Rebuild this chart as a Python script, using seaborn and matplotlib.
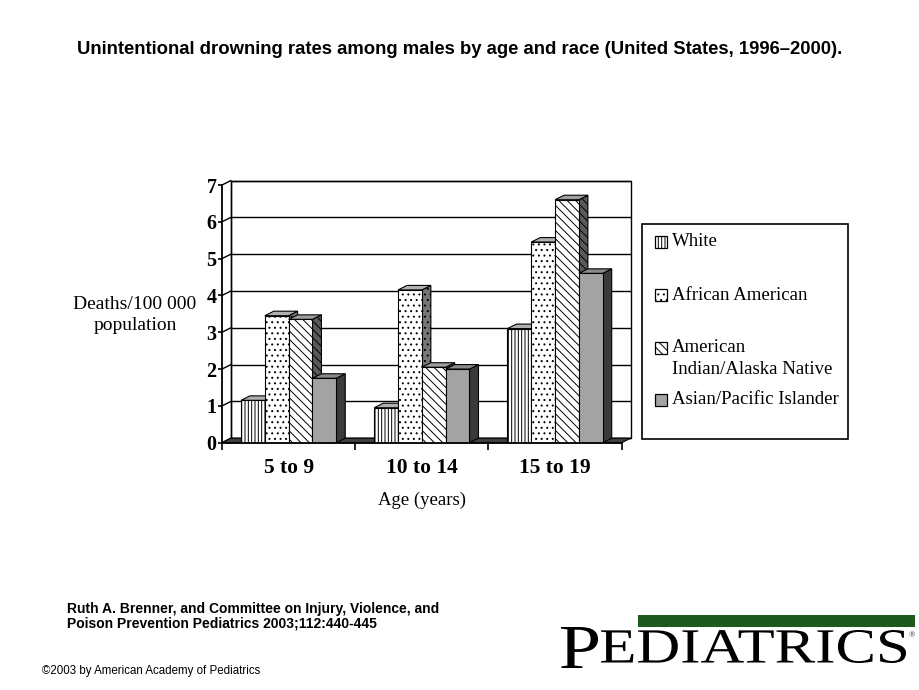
import numpy as np
import pandas as pd
import matplotlib
matplotlib.use("Agg")
import matplotlib.pyplot as plt
import seaborn as sns
from matplotlib.patches import Polygon, Rectangle, PathPatch
from matplotlib.textpath import TextPath
from matplotlib.font_manager import FontProperties
from matplotlib.transforms import Affine2D

# ---------------- data ----------------
age_groups = ["5 to 9", "10 to 14", "15 to 19"]
races = ["White", "African American", "American\nIndian/Alaska Native", "Asian/Pacific Islander"]
white = [1.15, 0.95, 3.10]
african_american = [3.45, 4.15, 5.45]
american_indian = [3.35, 2.05, 6.60]
asian_pacific = [1.75, 2.00, 4.60]
y_ticks = [0, 1, 2, 3, 4, 5, 6, 7]

title = "Unintentional drowning rates among males by age and race (United States, 1996\u20132000)."
y_label = "Deaths/100 000\npopulation"
x_label = "Age (years)"
credit_1 = "Ruth A. Brenner, and Committee on Injury, Violence, and"
credit_2 = "Poison Prevention Pediatrics 2003;112:440-445"
copyright_txt = "\u00a92003 by American Academy of Pediatrics"

series = [white, african_american, american_indian, asian_pacific]
df = pd.DataFrame(
    [(a, r, v[i]) for r, v in zip(races, series) for i, a in enumerate(age_groups)],
    columns=["age", "race", "rate"],
)

sns.set_theme(style="white")
plt.rcParams["hatch.linewidth"] = 0.7
plt.rcParams["hatch.color"] = "black"
SERIF = ["Liberation Serif", "DejaVu Serif"]
SANS = ["Liberation Sans", "DejaVu Sans"]

W, H = 920, 690
fig = plt.figure(figsize=(9.2, 6.9), dpi=100)
fig.patch.set_facecolor("white")

ax_l, ax_r, ax_b, ax_t = 222, 621.7, 442.7, 185
ax = fig.add_axes([ax_l / W, 1 - ax_b / H, (ax_r - ax_l) / W, (ax_b - ax_t) / H])
ax.set_facecolor("none")

palette = {races[0]: "#ffffff", races[1]: "#ffffff", races[2]: "#ffffff", races[3]: "#a3a3a3"}
sns.barplot(data=df, x="age", y="rate", hue="race", order=age_groups, hue_order=races,
            palette=palette, saturation=1, width=0.715, edgecolor="black", linewidth=0.8,
            legend=False, ax=ax)

ax.set_xlim(-0.5, 2.5)
ax.set_ylim(0, 7)

# depth offset in data units (about 9 px right, 4.5 px up)
dx = 9 / (ax_r - ax_l) * 3
dy = 4.5 / (ax_b - ax_t) * 7

hatches = ["|||||", "...", "\\\\\\\\", ""]
top_cols = ["#b0b0b0", "#b0b0b0", "#a0a0a0", "#8a8a8a"]
side_cols = ["#6a6a6a", "#777777", "#5a5a5a", "#3a3a3a"]

# back wall, gridlines, floor
ax.add_patch(Rectangle((-0.5 + dx, dy), 3, 7, facecolor="white", edgecolor="black",
                       linewidth=1.0, zorder=0.2, clip_on=False))
for yv in y_ticks:
    ax.plot([-0.5 + dx, 2.5 + dx], [yv + dy, yv + dy], color="black", lw=1.0,
            zorder=0.3, clip_on=False, solid_capstyle="butt")
    ax.plot([-0.5, -0.5 + dx], [yv, yv + dy], color="black", lw=1.0, zorder=0.3, clip_on=False)
ax.plot([-0.5 + dx, -0.5 + dx], [dy, 7 + dy], color="black", lw=1.0, zorder=0.3, clip_on=False)
ax.add_patch(Polygon([(-0.5, 0), (2.5, 0), (2.5 + dx, dy), (-0.5 + dx, dy)], closed=True,
                     facecolor="#404040", edgecolor="black", linewidth=0.8, zorder=0.5,
                     clip_on=False))

# style bars and add 3D faces
bars = []
for k, cont in enumerate(ax.containers):
    for p in cont.patches:
        p.set_hatch(hatches[k])
        bars.append((p.get_x(), p, k))
bars.sort(key=lambda t: t[0])
for n, (_, p, k) in enumerate(bars):
    x0 = p.get_x()
    x1 = x0 + p.get_width()
    h = p.get_height()
    base = 1 + 3 * n
    side = Polygon([(x1, 0), (x1 + dx, dy), (x1 + dx, h + dy), (x1, h)], closed=True,
                   facecolor=side_cols[k], edgecolor="black", linewidth=0.8,
                   hatch=hatches[k], zorder=base, clip_on=False)
    top = Polygon([(x0, h), (x1, h), (x1 + dx, h + dy), (x0 + dx, h + dy)], closed=True,
                  facecolor=top_cols[k], edgecolor="black", linewidth=0.8,
                  zorder=base + 1, clip_on=False)
    ax.add_patch(side)
    ax.add_patch(top)
    p.set_zorder(base + 2)

# axes lines & ticks
for s in ["top", "right"]:
    ax.spines[s].set_visible(False)
for s in ["left", "bottom"]:
    ax.spines[s].set_visible(True)
    ax.spines[s].set_color("black")
    ax.spines[s].set_linewidth(1.3)
    ax.spines[s].set_zorder(100)

ax.set_yticks(y_ticks)
ax.set_yticklabels([str(t) for t in y_ticks])
ax.tick_params(axis="y", direction="out", length=3, width=1.2, pad=1, colors="black",
               labelsize=14.5, left=True)
for t in ax.get_yticklabels():
    t.set_fontfamily(SERIF)
    t.set_fontweight("bold")

ax.set_xticks([-0.5, 0.5, 1.5, 2.5])
ax.set_xticklabels([])
ax.set_xticks([0, 1, 2], minor=True)
ax.set_xticklabels(age_groups, minor=True)
ax.tick_params(axis="x", which="major", direction="out", length=5, width=1.2,
               colors="black", bottom=True)
ax.tick_params(axis="x", which="minor", length=0, pad=11, labelsize=15.5, colors="black")
for t in ax.get_xticklabels(minor=True):
    t.set_fontfamily(SERIF)
    t.set_fontweight("bold")
ax.set_xlabel("")
ax.set_ylabel("")
ax.grid(False)

# axis titles
fig.text(135 / W, 1 - 315 / H, y_label, ha="center", va="center", fontsize=14,
         family=SERIF, linespacing=1.25, color="black")
fig.text(422 / W, 1 - 500 / H, x_label, ha="center", va="center", fontsize=13.5,
         family=SERIF, color="black")

# title
fig.text(459.5 / W, 1 - 49 / H, title, ha="center", va="center", fontsize=13.3,
         fontweight="bold", family=SANS, color="black")

# legend (drawn as a boxed key)
ov = fig.add_axes([0, 0, 1, 1], zorder=-1)
ov.set_xlim(0, W)
ov.set_ylim(H, 0)
ov.axis("off")
ov.add_patch(Rectangle((642, 224), 206, 215, facecolor="white", edgecolor="black", lw=1.2))
leg_y = [242, 295, 348, 400]
for k, (lab, yy) in enumerate(zip(races, leg_y)):
    ov.add_patch(Rectangle((655, yy - 6), 12, 12, facecolor=palette[lab] if k == 3 else "white",
                           edgecolor="black", lw=0.9, hatch=hatches[k]))
    lines = lab.split("\n")
    for j, ln in enumerate(lines):
        ov.text(672, yy + j * 21, ln, ha="left", va="center", fontsize=13.5,
                family=SERIF, color="black")

# credits
fig.text(67 / W, 1 - 609 / H, credit_1, ha="left", va="center", fontsize=10,
         fontweight="bold", family=SANS, color="black")
fig.text(67 / W, 1 - 624 / H, credit_2, ha="left", va="center", fontsize=10,
         fontweight="bold", family=SANS, color="black")
fig.text(42 / W, 1 - 671 / H, copyright_txt, ha="left", va="center", fontsize=8.3,
         family=SANS, color="black")

# journal logo
lg = fig.add_axes([0, 0, 1, 1], zorder=5)
lg.set_xlim(0, W)
lg.set_ylim(0, H)
lg.axis("off")
lg.add_patch(Rectangle((638, H - 627), 277, 12, facecolor="#1e5a1e", edgecolor="none"))
fp = FontProperties(family="Liberation Serif")


def fitted_text(s, x0, y_top, x1, y_bot):
    tp = TextPath((0, 0), s, size=10, prop=fp)
    bb = tp.get_extents()
    tr = (Affine2D().translate(-bb.x0, -bb.y0)
          .scale((x1 - x0) / bb.width, (y_bot - y_top) / bb.height)
          .translate(x0, H - y_bot))
    lg.add_patch(PathPatch(tr.transform_path(tp), facecolor="black", edgecolor="none"))


fitted_text("P", 561, 627, 598, 668)
fitted_text("EDIATRICS", 601, 630, 906, 663)
lg.text(912, H - 635, "\u00ae", fontsize=6, ha="center", va="center", family=SERIF)

fig.savefig("out.png", dpi=100, facecolor="white")
